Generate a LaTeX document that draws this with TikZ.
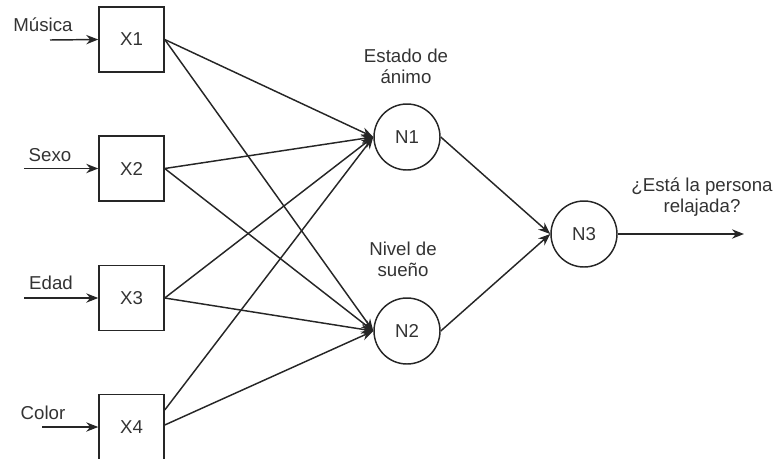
\documentclass[tikz,border=0pt]{standalone}
\usepackage{fontspec}
\setmainfont{Liberation Sans}
\usetikzlibrary{arrows.meta,calc}
\begin{document}
\begin{tikzpicture}[x=0.75pt,y=-0.75pt,
  txt/.style={font=\fontsize{14}{16}\selectfont, text=black!80, align=center, inner sep=0pt},
  boxnode/.style={draw=black!85, line width=1.1pt, minimum size=48.75pt, inner sep=0pt, font=\fontsize{14}{16}\selectfont, text=black!80},
  neuron/.style={draw=black!85, circle, line width=1.1pt, minimum size=49.5pt, inner sep=0pt, font=\fontsize{14}{16}\selectfont, text=black!80},
  conn/.style={draw=black!85, line width=1.1pt, -{Stealth[length=9pt,width=7pt]}}]
\useasboundingbox (0,0) rectangle (778,458);
% input boxes
\node[boxnode] (X1) at (131.5,39.5) {X1};
\node[boxnode] (X2) at (131.5,168.5) {X2};
\node[boxnode] (X3) at (131.5,298) {X3};
\node[boxnode] (X4) at (131.5,427) {X4};
% neurons
\node[neuron] (N1) at (407,137) {N1};
\node[neuron] (N2) at (407,331) {N2};
\node[neuron] (N3) at (584,234) {N3};
% input ends
\coordinate (m) at (50,40);
\coordinate (s) at (24,168.5);
\coordinate (e) at (24,298);
\coordinate (c) at (42,427);
\coordinate (out) at (744,234);
% labels
\node[txt] (lm) at (43,25) {Música};
\node[txt] (ls) at (50,155) {Sexo};
\node[txt] (le) at (51,283) {Edad};
\node[txt] (lc) at (43,413) {Color};
\node[txt] (l1) at (406,66) {Estado de\\ánimo};
\node[txt] (l2) at (403,259) {Nivel de\\sueño};
\node[txt] (l3) at (702,197) {¿Está la persona\\relajada?};
% input arrows
\draw[conn] (m) -- (X1.west);
\draw[conn] (s) -- (X2.west);
\draw[conn] (e) -- (X3.west);
\draw[conn] (c) -- (X4.west);
% hidden layer connections
\draw[conn] (X1.east) -- (N1.west);
\draw[conn] (X1.east) -- (N2.west);
\draw[conn] (X2.east) -- (N1.west);
\draw[conn] (X2.east) -- (N2.west);
\draw[conn] (X3.east) -- (N1.west);
\draw[conn] (X3.east) -- (N2.west);
\draw[conn] ($(X4.east)+(0,-17)$) -- (N1.west);
\draw[conn] ($(X4.east)+(0,-2)$) -- (N2.west);
% output layer
\draw[conn] (N1.east) -- (N3.west);
\draw[conn] (N2.east) -- (N3.west);
\draw[conn] (N3.east) -- (out);
\end{tikzpicture}
\end{document}
